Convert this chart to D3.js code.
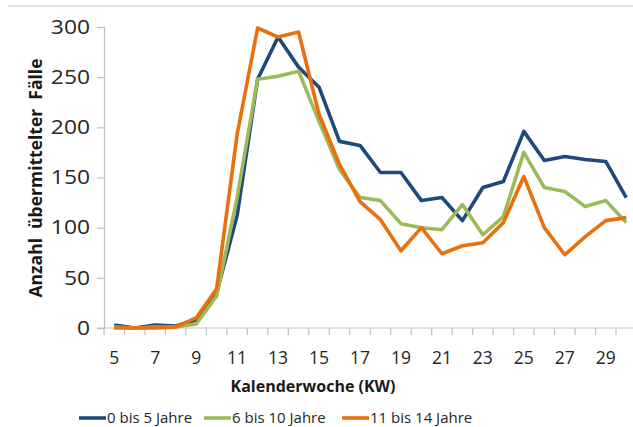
<!DOCTYPE html>
<html><head><meta charset="utf-8">
<script src="https://cdn.jsdelivr.net/npm/d3@7"></script>
<style>
html,body{margin:0;padding:0;background:#fff;}
svg{display:block;}
text{font-family:"Open Sans",sans-serif;}
</style></head>
<body>
<script>
const weeks = [5,6,7,8,9,10,11,12,13,14,15,16,17,18,19,20,21,22,23,24,25,26,27,28,29,30];
const age0to5 = [3,0,3,2,8,35,112,248,290,260,240,186,182,155,155,127,130,107,140,146,196,167,171,168,166,130];
const age6to10 = [1,0,1,1,4,32,130,248,251,256,206,158,130,127,104,100,98,123,93,111,175,140,136,121,127,105];
const age11to14 = [0,0,0,1,10,39,193,299,290,295,213,163,126,108,77,100,74,82,85,105,151,100,73,91,107,110];
const seriesNames = ["0 bis 5 Jahre","6 bis 10 Jahre","11 bis 14 Jahre"];
const seriesColors = ["#1f497d","#9bbb59","#e8700f"];
const yTicks = [0,50,100,150,200,250,300];
const xLabelWeeks = [5,7,9,11,13,15,17,19,21,23,25,27,29];

const W = 633, H = 427;
const svg = d3.select("body").append("svg").attr("width", W).attr("height", H);

// top separator line
svg.append("line").attr("x1",8).attr("x2",W).attr("y1",6).attr("y2",6)
  .attr("stroke","#d9d9d9").attr("stroke-width",1.5);

const x = d3.scaleBand().domain(weeks).range([104, 104 + 26*20.48]).paddingInner(0).paddingOuter(0);
const y = d3.scaleLinear().domain([0,300]).range([328,27]);

// Y axis
const yAxis = svg.append("g").attr("transform","translate(104,0)")
  .call(d3.axisLeft(y).tickValues(yTicks).tickSize(7).tickPadding(7));
yAxis.select(".domain").attr("stroke","#bfbfbf").attr("stroke-width",1.2);
yAxis.selectAll(".tick line").attr("stroke","#bfbfbf").attr("stroke-width",1.2);
yAxis.selectAll(".tick text").attr("font-size",19.5).attr("fill","#262626")
  .attr("font-family","'Open Sans',sans-serif")
  .each(function(){
    const t = d3.select(this);
    const xx = +t.attr("x");
    t.attr("x",0).attr("transform",`translate(${xx},0) scale(1.17,1)`);
  });

// X axis line
svg.append("line").attr("x1",97).attr("x2",W).attr("y1",y(0)).attr("y2",y(0))
  .attr("stroke","#bfbfbf").attr("stroke-width",1.2);
// boundary ticks
const bounds = weeks.map(w => x(w)).concat([x(weeks[weeks.length-1]) + x.bandwidth()]);
svg.append("g").selectAll("line").data(bounds).join("line")
  .attr("x1",d=>d).attr("x2",d=>d).attr("y1",y(0)).attr("y2",y(0)+7)
  .attr("stroke","#bfbfbf").attr("stroke-width",1.2);
// x labels
svg.append("g").selectAll("text").data(xLabelWeeks).join("text")
  .attr("x",d=>x(d)+x.bandwidth()/2).attr("y",364)
  .attr("text-anchor","middle").attr("font-size",17.5).attr("fill","#262626")
  .text(d=>d);

// lines
const allSeries = [age0to5, age6to10, age11to14];
const line = d3.line().x((d,i)=>x(weeks[i])+x.bandwidth()/2).y(d=>y(d));
allSeries.forEach((s,k)=>{
  svg.append("path").datum(s).attr("d",line).attr("fill","none")
    .attr("stroke",seriesColors[k]).attr("stroke-width",3.6)
    .attr("stroke-linejoin","round").attr("stroke-linecap","butt");
});

// axis titles
svg.append("text").attr("transform","translate(42,178) rotate(-90)")
  .attr("text-anchor","middle").attr("font-size",17.5).attr("font-weight","bold")
  .attr("fill","#1a1a1a").style("white-space","pre")
  .text("Anzahl  übermittelter  Fälle");
svg.append("text").attr("x",313).attr("y",392).attr("text-anchor","middle")
  .attr("font-size",16).attr("font-weight","bold").attr("fill","#1a1a1a")
  .text("Kalenderwoche (KW)");

// legend
const legX = [79,204,342];
const leg = svg.append("g");
seriesNames.forEach((n,k)=>{
  leg.append("line").attr("x1",legX[k]).attr("x2",legX[k]+27).attr("y1",418).attr("y2",418)
    .attr("stroke",seriesColors[k]).attr("stroke-width",3.6);
  leg.append("text").attr("x",legX[k]+28).attr("y",423).attr("font-size",15)
    .attr("fill","#262626").text(n);
});
</script>
</body></html>
